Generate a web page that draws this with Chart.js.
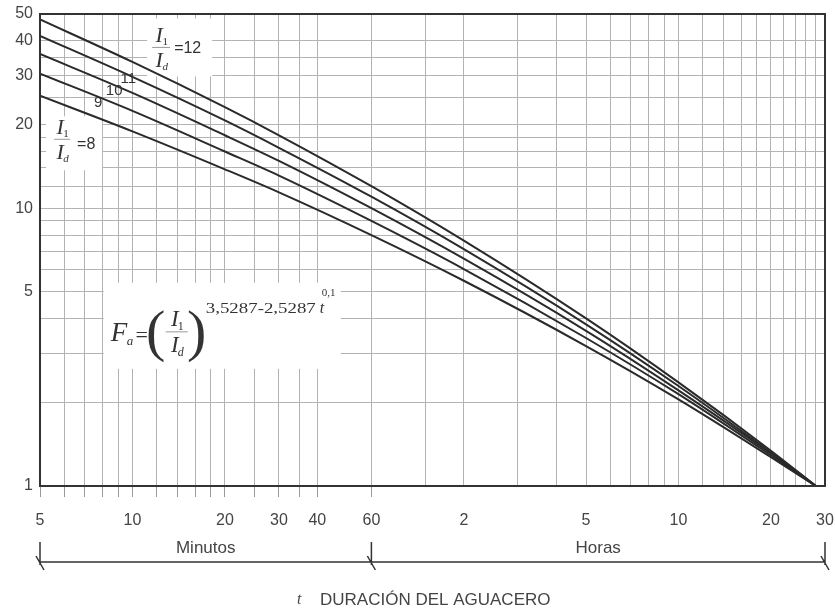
<!DOCTYPE html>
<html lang="es">
<head>
<meta charset="UTF-8">
<title>Factor de ajuste por duración del aguacero</title>
<script src="https://cdn.jsdelivr.net/npm/chart.js"></script>
<style>
  html, body { margin: 0; padding: 0; background: #fff; }
  #wrap { width: 835px; height: 615px; }
</style>
</head>
<body>
<div id="wrap"><canvas id="chart" width="835" height="615"></canvas></div>
<script>
// duración del aguacero, en minutos
const durations = [5, 10, 20, 30, 60, 120, 300, 600, 1200, 1680];

const fa12 = [47.8, 33.6, 23.1, 18.3, 12, 7.64, 4.01, 2.36, 1.34, 1];
const fa11 = [41.7, 29.7, 20.7, 16.5, 11, 7.12, 3.82, 2.29, 1.32, 1];
const fa10 = [35.9, 26.0, 18.3, 14.8, 10, 6.58, 3.62, 2.21, 1.31, 1];
const fa9  = [30.5, 22.4, 16.0, 13.1,  9, 6.04, 3.41, 2.14, 1.29, 1];
const fa8  = [25.4, 18.9, 13.8, 11.4,  8, 5.48, 3.19, 2.05, 1.27, 1];
const ratios = ['12', '11', '10', '9', '8'];

// líneas de la cuadrícula y etiquetas
const gridX = [5, 6, 7, 8, 9, 10, 12, 14, 16, 18, 20, 25, 30, 35, 40, 60, 90, 120, 180, 240,
  300, 360, 420, 480, 540, 600, 720, 840, 960, 1080, 1200, 1320, 1440, 1560, 1680, 1800];
const gridY = [1, 2, 3, 4, 5, 6, 7, 8, 9, 10, 12, 14, 16, 18, 20, 25, 30, 35, 40, 50];
const xTickValues = [5, 10, 20, 30, 40, 60, 120, 300, 600, 1200, 1800];
const xTickLabels = ['5', '10', '20', '30', '40', '60', '2', '5', '10', '20', '30'];
const yTickLabels = [1, 5, 10, 20, 30, 40, 50];

const SANS = '"Liberation Sans", Arial, sans-serif';
const SERIF = '"Liberation Serif", "Times New Roman", serif';
const INK = '#333';

function drawI(ctx, x, y, sub, size) {
  ctx.font = 'italic ' + size + 'px ' + SERIF;
  ctx.textAlign = 'center';
  ctx.textBaseline = 'middle';
  ctx.fillText('I', x - 2, y);
  ctx.font = (sub === 'd' ? 'italic ' : '') + Math.round(size * 0.5) + 'px ' + SERIF;
  ctx.fillText(sub, x + 4, y + size * 0.28);
}

function drawFrac(ctx, cx, cy, size, half) {
  drawI(ctx, cx, cy - size * 0.5, '1', size);
  drawI(ctx, cx, cy + size * 0.62, 'd', size);
  ctx.strokeStyle = '#999';
  ctx.lineWidth = 1;
  ctx.beginPath();
  ctx.moveTo(cx - half, cy);
  ctx.lineTo(cx + half, cy);
  ctx.stroke();
}

const decor = {
  id: 'decor',
  beforeDatasetsDraw(chart) {
    const ctx = chart.ctx, x = chart.scales.x, y = chart.scales.y;
    const P = (m, v) => [x.getPixelForValue(m), y.getPixelForValue(v)];
    ctx.save();
    ctx.fillStyle = '#fff';
    let [ax, ay] = P(8.5, 3.5);
    ctx.fillRect(ax - 7, ay - 52, 237, 86);
    [ax, ay] = P(12.4, 37.9);
    ctx.fillRect(ax - 14, ay - 29, 65, 58);
    [ax, ay] = P(5.9, 17.7);
    ctx.fillRect(ax - 16, ay - 23, 56, 54);
    ctx.restore();
  },
  afterDatasetsDraw(chart) {
    const ctx = chart.ctx, x = chart.scales.x, y = chart.scales.y;
    const a = chart.chartArea;
    const P = (m, v) => [x.getPixelForValue(m), y.getPixelForValue(v)];
    ctx.save();

    // marco
    ctx.strokeStyle = INK;
    ctx.lineWidth = 2;
    ctx.strokeRect(a.left, a.top, a.right - a.left, a.bottom - a.top);

    ctx.fillStyle = INK;
    // etiquetas de curvas
    let [cx, cy] = P(12.4, 37.9);
    drawFrac(ctx, cx, cy, 22, 9);
    ctx.font = '16px ' + SANS;
    ctx.textAlign = 'left';
    ctx.textBaseline = 'middle';
    ctx.fillText('=' + ratios[0], cx + 13, cy + 1);

    [cx, cy] = P(5.9, 17.7);
    drawFrac(ctx, cx, cy, 22, 8);
    ctx.font = '16px ' + SANS;
    ctx.textAlign = 'left';
    ctx.textBaseline = 'middle';
    ctx.fillText('=' + ratios[4], cx + 15, cy + 5);

    ctx.font = '15px ' + SANS;
    ctx.textAlign = 'center';
    [[9.69, 29.1], [8.72, 26.4], [7.73, 23.9]].forEach((pos, i) => {
      const [px, py] = P(pos[0], pos[1]);
      ctx.fillText(ratios[i + 1], px, py);
    });

    // fórmula
    const [ax, ay] = P(8.5, 3.5);
    ctx.textAlign = 'left';
    ctx.textBaseline = 'alphabetic';
    ctx.font = 'italic 27px ' + SERIF;
    ctx.fillText('F', ax, ay + 6);
    ctx.font = 'italic 13px ' + SERIF;
    ctx.fillText('a', ax + 16, ay + 10);
    ctx.textAlign = 'center';
    ctx.font = '22px ' + SERIF;
    ctx.fillText('=', ax + 31, ay + 7);
    ctx.font = '58px ' + SERIF;
    ctx.fillText('(', ax + 45, ay + 15);
    ctx.fillText(')', ax + 86, ay + 15);
    drawFrac(ctx, ax + 66, ay - 3, 23, 11);
    ctx.fillStyle = INK;
    ctx.textAlign = 'left';
    ctx.textBaseline = 'alphabetic';
    ctx.font = '15px ' + SERIF;
    const expo = '3,5287-2,5287';
    const w = ctx.measureText(expo).width;
    ctx.save();
    ctx.translate(ax + 95, ay - 22);
    ctx.scale(110 / w, 1);
    ctx.fillText(expo, 0, 0);
    ctx.restore();
    ctx.font = 'italic 16px ' + SERIF;
    ctx.fillText('t', ax + 209, ay - 22);
    ctx.font = '11px ' + SERIF;
    ctx.fillText('0,1', ax + 211, ay - 39);

    // llaves de minutos y horas
    const b = a.bottom;
    const x5 = x.getPixelForValue(5), x60 = x.getPixelForValue(60), x30h = x.getPixelForValue(1800);
    ctx.strokeStyle = INK;
    ctx.lineWidth = 1.5;
    ctx.beginPath();
    ctx.moveTo(x5, b + 76);
    ctx.lineTo(x30h, b + 76);
    [x5, x60, x30h].forEach(px => {
      ctx.moveTo(px, b + 56);
      ctx.lineTo(px, b + 79);
      ctx.moveTo(px - 4, b + 70);
      ctx.lineTo(px + 4, b + 84);
    });
    ctx.stroke();

    ctx.fillStyle = '#444';
    ctx.font = '17px ' + SANS;
    ctx.textAlign = 'center';
    ctx.textBaseline = 'middle';
    ctx.fillText('Minutos', (x5 + x60) / 2, b + 62);
    ctx.fillText('Horas', (x60 + x30h) / 2, b + 62);

    ctx.textAlign = 'left';
    ctx.font = 'italic 16px ' + SERIF;
    ctx.fillText('t', 297, b + 114);
    ctx.font = '17px ' + SANS;
    ctx.fillText('DURACIÓN DEL AGUACERO', 320, b + 114);
    ctx.restore();
  }
};

const series = [fa12, fa11, fa10, fa9, fa8];

new Chart(document.getElementById('chart'), {
  type: 'line',
  data: {
    labels: durations,
    datasets: series.map((vals, i) => ({
      label: 'I1/Id = ' + ratios[i],
      data: durations.map((d, j) => ({ x: d, y: vals[j] })),
      borderColor: '#2a2a2a',
      borderWidth: 2,
      pointRadius: 0,
      fill: false,
      cubicInterpolationMode: 'monotone'
    }))
  },
  options: {
    responsive: false,
    animation: false,
    devicePixelRatio: 1,
    layout: { padding: { top: 14, right: 10, left: 0, bottom: 0 } },
    plugins: { legend: { display: false }, tooltip: { enabled: false } },
    scales: {
      x: {
        type: 'logarithmic',
        min: 5,
        max: 1800,
        afterBuildTicks: s => { s.ticks = gridX.map(v => ({ value: v })); },
        afterFit: s => { s.height = 129; s.paddingLeft = 0; s.paddingRight = 0; },
        grid: {
          color: '#b3b3b3',
          lineWidth: 1,
          tickLength: 11,
          tickColor: c => (c.tick && c.tick.value <= 60 ? '#999' : 'rgba(0,0,0,0)')
        },
        border: { display: true, color: INK, width: 2 },
        ticks: {
          autoSkip: false,
          maxRotation: 0,
          padding: 14,
          color: '#444',
          font: { family: SANS, size: 16 },
          callback: v => {
            const k = xTickValues.indexOf(v);
            return k >= 0 ? xTickLabels[k] : '';
          }
        }
      },
      y: {
        type: 'logarithmic',
        min: 1,
        max: 50,
        afterBuildTicks: s => { s.ticks = gridY.map(v => ({ value: v })); },
        afterFit: s => { s.width = 40; s.paddingTop = 0; s.paddingBottom = 0; },
        grid: { color: '#b3b3b3', lineWidth: 1, drawTicks: false },
        border: { display: true, color: INK, width: 2 },
        ticks: {
          autoSkip: false,
          padding: 7,
          color: '#444',
          font: { family: SANS, size: 16 },
          callback: v => (yTickLabels.includes(v) ? String(v) : '')
        }
      }
    }
  },
  plugins: [decor]
});
</script>
</body>
</html>
